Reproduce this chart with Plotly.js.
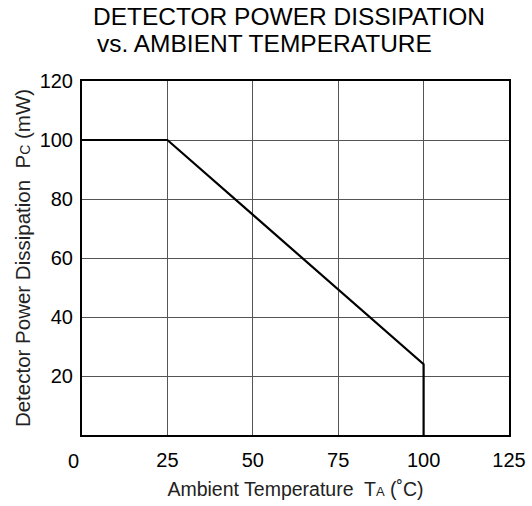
<!DOCTYPE html>
<html>
<head>
<meta charset="utf-8">
<script src="https://cdn.plot.ly/plotly-3.0.1.min.js"></script>
<style>html,body{margin:0;padding:0;background:#fff;}#chart{width:532px;height:506px;}</style>
</head>
<body>
<div id="chart"></div>
<script>
// Data: derating curve of detector power dissipation
const tempC = [0, 25, 100, 100];
const powerMW = [100, 100, 24, 0];

const xTickVals = [25, 50, 75, 100, 125];
const yTickVals = [20, 40, 60, 80, 100, 120];
const originLabel = '0';

const titleLines = ['DETECTOR POWER DISSIPATION', 'vs. AMBIENT TEMPERATURE'];
const xTitle = 'Ambient Temperature  T<span style="font-size:13px">A</span> (˚C)';
const yTitle = 'Detector Power Dissipation  P<span style="font-size:14px">C</span> (mW)';

const font = 'Liberation Sans, Arial, Helvetica, sans-serif';

const data = [{
  x: tempC,
  y: powerMW,
  type: 'scatter',
  mode: 'lines',
  line: {color: '#000', width: 2.2},
  hoverinfo: 'skip',
  showlegend: false
}];

const layout = {
  width: 532,
  height: 506,
  margin: {l: 82, r: 23, t: 81, b: 71, pad: 0},
  paper_bgcolor: '#fff',
  plot_bgcolor: '#fff',
  font: {family: font, color: '#000'},
  title: {
    text: titleLines[0],
    font: {family: font, size: 24.5, color: '#000'},
    xref: 'container', yref: 'container',
    x: 93 / 532, xanchor: 'left',
    y: 1 - 16 / 506, yanchor: 'middle'
  },
  xaxis: {
    range: [0, 125],
    tickmode: 'array',
    tickvals: xTickVals,
    ticktext: xTickVals.map(String),
    ticks: '',
    ticklabelstandoff: 6,
    tickfont: {family: font, size: 20, color: '#000'},
    showgrid: true,
    gridcolor: '#555',
    gridwidth: 1,
    zeroline: false,
    showline: true,
    linecolor: '#000',
    linewidth: 2,
    mirror: true,
    fixedrange: true,
    title: {text: xTitle, font: {family: font, size: 19.5, color: '#222'}, standoff: 12}
  },
  yaxis: {
    range: [0, 120],
    tickmode: 'array',
    tickvals: yTickVals,
    ticktext: yTickVals.map(String),
    ticks: '',
    ticklabelstandoff: 3,
    tickfont: {family: font, size: 20, color: '#000'},
    showgrid: true,
    gridcolor: '#555',
    gridwidth: 1,
    zeroline: false,
    showline: true,
    linecolor: '#000',
    linewidth: 2,
    mirror: true,
    fixedrange: true,
    title: {text: yTitle, font: {family: font, size: 20.5, color: '#222'}, standoff: 3}
  },
  annotations: [{
    text: titleLines[1],
    xref: 'paper', yref: 'paper',
    x: (95 - 82) / 427, y: 1 + (81 - 44) / 354,
    xanchor: 'left', yanchor: 'middle',
    showarrow: false,
    font: {family: font, size: 24.5, color: '#000'}
  }, {
    text: originLabel,
    x: 0, y: 0, xref: 'x', yref: 'y',
    xanchor: 'center', yanchor: 'top',
    xshift: -9, yshift: -13,
    showarrow: false,
    font: {family: font, size: 20, color: '#000'}
  }]
};

Plotly.newPlot('chart', data, layout, {displayModeBar: false, staticPlot: true});
</script>
</body>
</html>
